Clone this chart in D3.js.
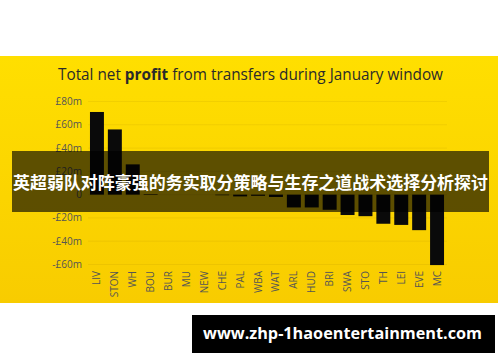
<!DOCTYPE html>
<html>
<head>
<meta charset="utf-8">
<script src="https://cdn.jsdelivr.net/npm/d3@7"></script>
<style>
  html, body { margin: 0; padding: 0; background: #fff; }
  svg { display: block; }
</style>
</head>
<body>
<svg id="chart" width="500" height="362"></svg>
<script>
var teams = ["LIV", "STON", "WH", "BOU", "BUR", "MU", "NEW", "CHE", "PAL", "WBA",
             "WAT", "ARL", "HUD", "BRI", "SWA", "STO", "TH", "LEI", "EVE", "MC"];
var netProfit = [71, 56, 26, 0.5, 0, 0, 0, -0.5, -1.5, -1,
                 -2, -11, -11, -13, -17.5, -18.5, -25, -26, -30.5, -60.5];
var yTicks = [80, 60, 40, 20, 0, -20, -40, -60];

var titleText = "Total net ";
var titleBold = "profit";
var titleRest = " from transfers during January window";
var bannerText = "英超弱队对阵豪强的务实取分策略与生存之道战术选择分析探讨";
var siteText = "www.zhp-1haoentertainment.com";

(function(){
	var width = 500, height = 362;
	var svg = d3.select("#chart");

	// yellow panel
	var defs = svg.append("defs");
	var grad = defs.append("linearGradient").attr("id", "panelGrad")
		.attr("x1", 0).attr("y1", 0).attr("x2", 0).attr("y2", 1);
	grad.append("stop").attr("offset", "0%").attr("stop-color", "#ffdf00");
	grad.append("stop").attr("offset", "100%").attr("stop-color", "#f8cc00");

	svg.append("rect")
		.attr("x", 0).attr("y", 56)
		.attr("width", 498).attr("height", 247)
		.style("fill", "url(#panelGrad)");

	var x = d3.scaleBand()
		.domain(teams)
		.range([88, 446])
		.paddingInner(0.22)
		.paddingOuter(0.11);

	var y = d3.scaleLinear()
		.domain([-60, 80])
		.range([264.5, 101.5]);

	// title
	var title = svg.append("text")
		.attr("x", 58).attr("y", 80)
		.style("font-family", "'Open Sans', sans-serif")
		.style("font-size", "15.5px")
		.style("fill", "#2a2a2a");
	title.append("tspan").text(titleText);
	title.append("tspan").style("font-weight", "bold").text(titleBold);
	title.append("tspan").text(titleRest);
	var tw = title.node().getComputedTextLength();
	if (tw > 0) title.attr("textLength", 385).attr("lengthAdjust", "spacingAndGlyphs");

	// grid + y labels
	var grid = svg.append("g");
	grid.selectAll("line").data(yTicks).enter().append("line")
		.attr("x1", 88).attr("x2", 447)
		.attr("y1", function(d){ return y(d); })
		.attr("y2", function(d){ return y(d); })
		.style("stroke", "rgba(160,120,0,0.12)")
		.style("stroke-width", 1);

	grid.selectAll("text").data(yTicks).enter().append("text")
		.attr("x", 82)
		.attr("y", function(d){ return y(d); })
		.attr("dy", "0.35em")
		.attr("text-anchor", "end")
		.style("font-family", "'Open Sans', sans-serif")
		.style("font-size", "10px")
		.style("fill", "#555")
		.text(function(d){
			if (d === 0) return "0";
			return (d < 0 ? "-" : "") + "£" + Math.abs(d) + "m";
		});

	// bars
	svg.append("g").selectAll("rect").data(teams).enter().append("rect")
		.attr("x", function(d){ return x(d); })
		.attr("width", x.bandwidth())
		.attr("y", function(d, i){ return y(Math.max(0, netProfit[i])); })
		.attr("height", function(d, i){ return Math.abs(y(netProfit[i]) - y(0)); })
		.style("fill", "#0a0a0a");

	// team labels
	svg.append("g").selectAll("text").data(teams).enter().append("text")
		.attr("transform", function(d){
			return "translate(" + (x(d) + x.bandwidth() / 2) + ",271) rotate(-90)";
		})
		.attr("dy", "0.35em")
		.attr("text-anchor", "end")
		.style("font-family", "'Open Sans', sans-serif")
		.style("font-size", "10px")
		.style("fill", "#555")
		.text(function(d){ return d; });

	// dark banner over chart
	svg.append("rect")
		.attr("x", 12).attr("y", 151)
		.attr("width", 477).attr("height", 61)
		.style("fill", "#000")
		.style("opacity", 0.63);

	svg.append("text")
		.attr("x", 250.5).attr("y", 183)
		.attr("dy", "0.35em")
		.attr("text-anchor", "middle")
		.attr("textLength", 475)
		.attr("lengthAdjust", "spacingAndGlyphs")
		.style("font-family", "'Noto Sans CJK SC', sans-serif")
		.style("font-weight", "bold")
		.style("font-size", "17px")
		.style("fill", "#fff")
		.text(bannerText);

	// site box
	svg.append("rect")
		.attr("x", 192).attr("y", 315)
		.attr("width", 303).attr("height", 38)
		.style("fill", "#000");

	svg.append("text")
		.attr("x", 342.5).attr("y", 334)
		.attr("dy", "0.35em")
		.attr("text-anchor", "middle")
		.attr("textLength", 279)
		.attr("lengthAdjust", "spacingAndGlyphs")
		.style("font-family", "'Open Sans', sans-serif")
		.style("font-weight", "bold")
		.style("font-size", "15.5px")
		.style("fill", "#fff")
		.text(siteText);
})();
</script>
</body>
</html>
